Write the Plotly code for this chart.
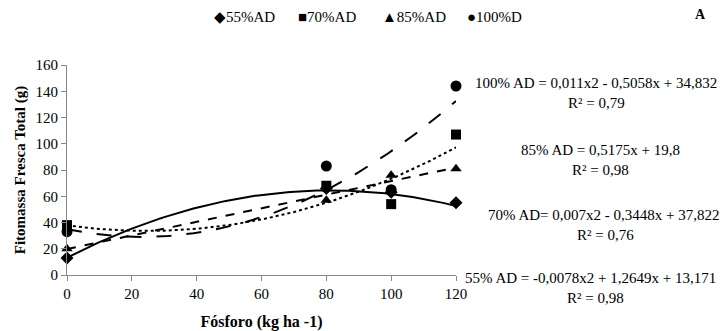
import numpy as np
import plotly.graph_objects as go

# ---- data ----
fosforo = [0, 80, 100, 120]
ad55 = [13, 66, 63, 55]
ad70 = [38, 68, 54, 107]
ad85 = [20, 57, 76, 81]
ad100 = [33, 83, 65, 144]

# trendline coefficients shown on the chart (a*x^2 + b*x + c)
coef55 = [-0.0078, 1.2649, 13.171]
coef70 = [0.007, -0.3448, 37.822]
coef85 = [0.0, 0.5175, 19.8]
coef100 = [0.011, -0.5058, 34.832]

series_names = ["55%AD", "70%AD", "85%AD", "100%D"]
eq_texts = [
    "55% AD = -0,0078x2 + 1,2649x + 13,171",
    "70% AD= 0,007x2 - 0,3448x + 37,822",
    "85% AD = 0,5175x + 19,8",
    "100% AD = 0,011x2 - 0,5058x + 34,832",
]
r2_texts = ["R² = 0,98", "R² = 0,76", "R² = 0,98", "R² = 0,79"]
y_ticks = [0, 20, 40, 60, 80, 100, 120, 140, 160]
x_ticks = [0, 20, 40, 60, 80, 100, 120]

FONT = "Liberation Serif"

fig = go.Figure()
xs = np.linspace(0, 120, 121)
series = [
    (ad55, coef55, "diamond", 10, "solid"),
    (ad70, coef70, "square", 10, "dot"),
    (ad85, coef85, "triangle-up", 10, "dash"),
    (ad100, coef100, "circle", 11, "longdash"),
]
for name, (vals, coef, sym, size, dash) in zip(series_names, series):
    a, b, c = coef
    fig.add_trace(go.Scatter(x=xs, y=a * xs**2 + b * xs + c, mode="lines",
                             line=dict(color="black", width=2, dash=dash),
                             showlegend=False, hoverinfo="skip", cliponaxis=False))
    fig.add_trace(go.Scatter(x=fosforo, y=vals, mode="markers", name=name,
                             marker=dict(symbol=sym, size=size, color="black"),
                             showlegend=False, cliponaxis=False))

L, T, R, B = 67, 65, 456, 275
W, H = R - L, B - T

def px(x):
    return (x - L) / W

def py(y):
    return (B - y) / H

ann = []
# legend as text
legend_items = [("◆55%AD", 212), ("■70%AD", 296), ("▲85%AD", 380), ("●100%D", 465)]
for txt, x0 in legend_items:
    ann.append(dict(text=txt, x=px(x0), y=py(17), xref="paper", yref="paper",
                    xanchor="left", yanchor="middle", showarrow=False,
                    font=dict(family=FONT, size=15, color="black")))
ann.append(dict(text="<b>A</b>", x=px(700), y=py(15), xref="paper", yref="paper",
                xanchor="center", yanchor="middle", showarrow=False,
                font=dict(family=FONT, size=14, color="black")))

eq_pos = [(590, 278, 595, 298), (604, 215, 605, 235), (600, 150, 600, 170), (596, 83, 596, 103)]
for eq, r2, (ex, ey, rx, ry) in zip(eq_texts, r2_texts, eq_pos):
    ann.append(dict(text=eq, x=px(ex), y=py(ey), xref="paper", yref="paper",
                    xanchor="center", yanchor="middle", showarrow=False,
                    font=dict(family=FONT, size=15, color="black")))
    ann.append(dict(text=r2, x=px(rx), y=py(ry), xref="paper", yref="paper",
                    xanchor="center", yanchor="middle", showarrow=False,
                    font=dict(family=FONT, size=15, color="black")))

fig.update_layout(
    width=726, height=331,
    margin=dict(l=L, r=726 - R, t=T, b=331 - B, autoexpand=False),
    paper_bgcolor="white", plot_bgcolor="white",
    showlegend=False,
    annotations=ann,
    font=dict(family=FONT, size=15, color="black"),
)
fig.update_xaxes(range=[0, 120], tickvals=x_ticks, showgrid=False, zeroline=False,
                 showline=True, linecolor="#888888", linewidth=1, automargin=False,
                 ticks="outside", ticklen=5, tickcolor="#888888",
                 tickfont=dict(family=FONT, size=15, color="black"),
                 title=dict(text="<b>Fósforo (kg ha -1)</b>", standoff=14,
                            font=dict(family=FONT, size=16, color="black")))
fig.update_yaxes(range=[0, 160], tickvals=y_ticks, showgrid=False, zeroline=False,
                 showline=True, linecolor="#888888", linewidth=1, automargin=False,
                 ticks="outside", ticklen=5, tickcolor="#888888",
                 tickfont=dict(family=FONT, size=15, color="black"),
                 title=dict(text="<b>Fitomassa Fresca Total (g)</b>", standoff=6,
                            font=dict(family=FONT, size=15, color="black")))

fig.write_html("out.html", config={"displayModeBar": False},
               post_script="document.body.style.margin='0';document.body.style.overflow='hidden';")
